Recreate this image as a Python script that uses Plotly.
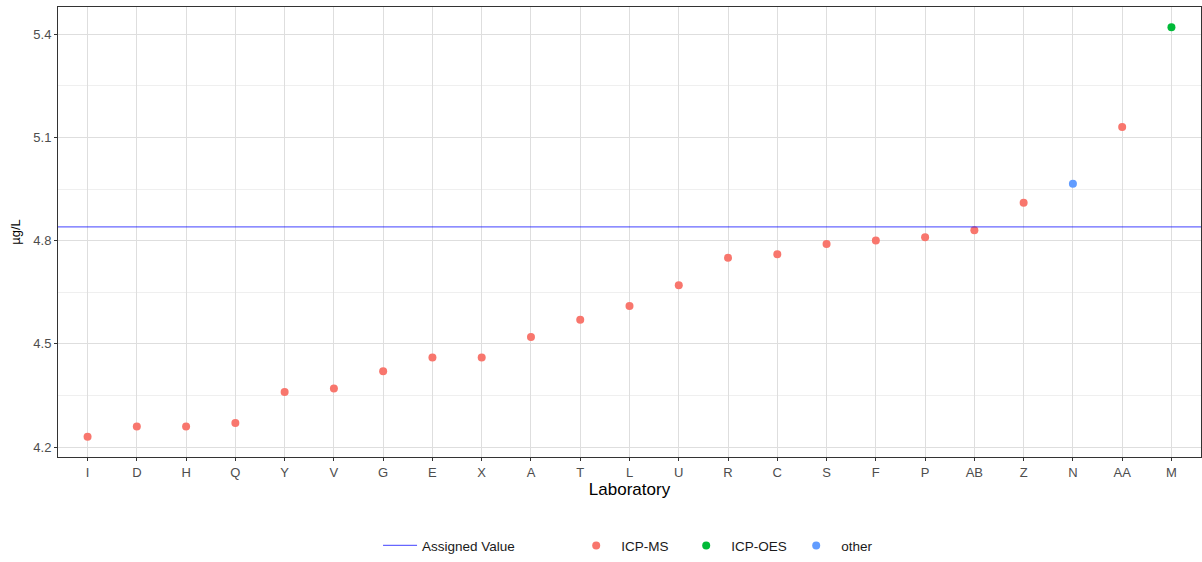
import plotly.graph_objects as go

labs = ['I', 'D', 'H', 'Q', 'Y', 'V', 'G', 'E', 'X', 'A', 'T', 'L', 'U',
        'R', 'C', 'S', 'F', 'P', 'AB', 'Z', 'N', 'AA', 'M']
values = [4.23, 4.26, 4.26, 4.27, 4.36, 4.37, 4.42, 4.46, 4.46, 4.52, 4.57, 4.61, 4.67,
          4.75, 4.76, 4.79, 4.80, 4.81, 4.83, 4.91, 4.965, 5.13, 5.42]
methods = ['ICP-MS'] * 20 + ['other', 'ICP-MS', 'ICP-OES']
assigned = 4.84

colors = {'ICP-MS': '#F8766D', 'ICP-OES': '#00BA38', 'other': '#619CFF'}
line_col = 'rgba(0,0,255,0.6)'

fig = go.Figure()

for m in ['ICP-MS', 'ICP-OES', 'other']:
    xs = [l for l, mm in zip(labs, methods) if mm == m]
    ys = [v for v, mm in zip(values, methods) if mm == m]
    fig.add_trace(go.Scatter(x=xs, y=ys, mode='markers', name=m, legend='legend2',
                             marker=dict(color=colors[m], size=8)))

# assigned value line across the whole panel, with its own legend entry
fig.add_hline(y=assigned, line=dict(color=line_col, width=1.3), layer='above',
              showlegend=True, name='Assigned Value', legend='legend')

axis_common = dict(
    showline=True, mirror=True, linecolor='#333333', linewidth=1,
    ticks='outside', ticklen=3, tickcolor='#333333',
    gridcolor='#DEDEDE', gridwidth=1, zeroline=False, automargin=False,
    tickfont=dict(size=13, color='#4D4D4D'),
)

fig.update_xaxes(
    type='category', categoryorder='array', categoryarray=labs,
    range=[-0.6, len(labs) - 0.4],
    title=dict(text='Laboratory', font=dict(size=17, color='black'), standoff=4),
    **axis_common,
)
fig.update_yaxes(
    range=[4.171, 5.479], tick0=4.2, dtick=0.3, tickformat='.1f',
    minor=dict(showgrid=True, dtick=0.15, tick0=4.2, gridcolor='#EFEFEF', ticks=''),
    title=dict(text='µg/L', font=dict(size=13, color='black'), standoff=9),
    **axis_common,
)

leg = dict(orientation='h', yanchor='middle', y=-0.197, xanchor='left',
           font=dict(size=13.5, color='#1A1A1A'), bgcolor='rgba(0,0,0,0)')
fig.update_layout(
    width=1202, height=562,
    template='plotly_white',
    plot_bgcolor='white', paper_bgcolor='white',
    font=dict(family='Liberation Sans, Arial', size=13, color='black'),
    margin=dict(l=58, r=1, t=7, b=103),
    showlegend=True,
    legend=dict(x=0.28, itemwidth=34, **leg),
    legend2=dict(x=0.449, itemwidth=40, entrywidth=55, **leg),
)

fig.write_html('out.html', config={'displayModeBar': False},
               post_script="document.body.style.margin='0';")
